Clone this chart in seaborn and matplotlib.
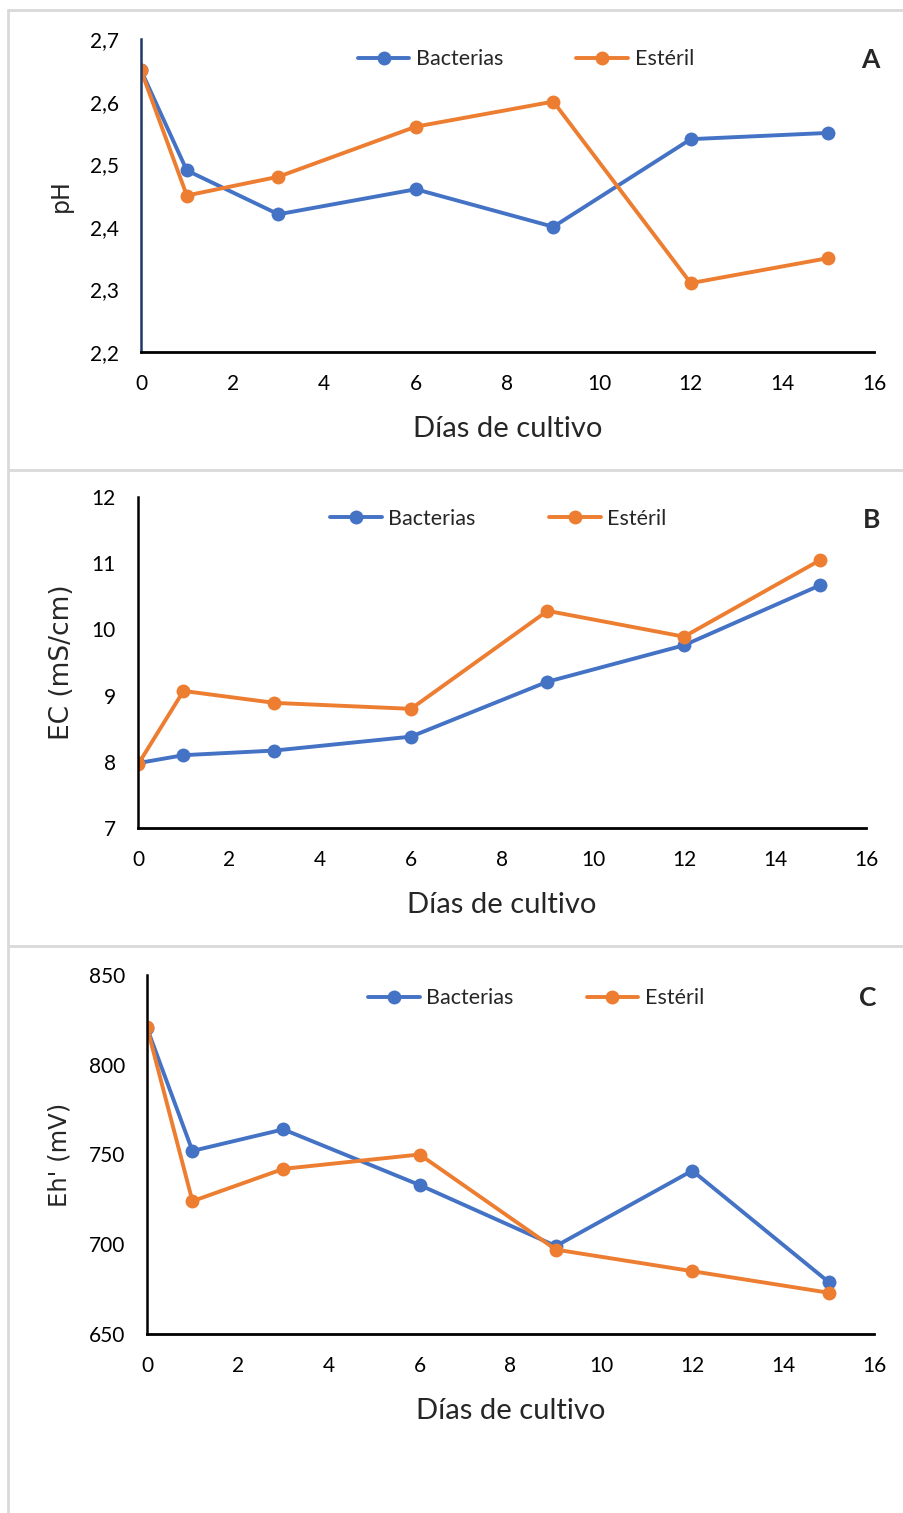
import numpy as np
import pandas as pd
import matplotlib
matplotlib.use("Agg")
import matplotlib.pyplot as plt
from matplotlib.lines import Line2D
import seaborn as sns

sns.set_style("white")
plt.rcParams['font.family'] = ['Lato', 'DejaVu Sans']

days = [0, 1, 3, 6, 9, 12, 15]
series_names = ["Bacterias", "Estéril"]

ph_bacterias = [2.65, 2.49, 2.42, 2.46, 2.40, 2.54, 2.55]
ph_esteril = [2.65, 2.45, 2.48, 2.56, 2.60, 2.31, 2.35]

ec_bacterias = [7.98, 8.10, 8.17, 8.38, 9.21, 9.76, 10.67]
ec_esteril = [7.96, 9.07, 8.89, 8.80, 10.28, 9.89, 11.05]

eh_bacterias = [820.5, 752, 764, 733, 699, 741, 679]
eh_esteril = [821, 724, 742, 750, 697, 685, 673]

panel_letters = ["A", "B", "C"]
ylabels = ["pH", "EC (mS/cm)", "Eh' (mV)"]
xlabel = "Días de cultivo"
yticks_A = [2.2, 2.3, 2.4, 2.5, 2.6, 2.7]
yticks_B = [7, 8, 9, 10, 11, 12]
yticks_C = [650, 700, 750, 800, 850]
xticks = [0, 2, 4, 6, 8, 10, 12, 14, 16]

colors = {"Bacterias": "#4472C4", "Estéril": "#ED7D31"}

W, H = 904, 1513
fig = plt.figure(figsize=(W / 100, H / 100), dpi=100)

def fx(px):
    return px / W

def fy(py):
    return 1 - py / H

# panel frames
for y in [10, 470, 946]:
    fig.add_artist(Line2D([fx(8), 1.0], [fy(y), fy(y)], transform=fig.transFigure,
                          color="#d9d9d9", lw=2))
fig.add_artist(Line2D([fx(8), fx(8)], [fy(10), 0.0], transform=fig.transFigure,
                      color="#d9d9d9", lw=2))

panels = [
    dict(rect=(141, 874, 39, 352), b=ph_bacterias, e=ph_esteril, yt=yticks_A,
         fmt=lambda v: f"{v:.1f}".replace(".", ","), leg=(0.525, 0.935), letter_y=60, letter_x=870,
         spine="#1f3864", ylsize=17),
    dict(rect=(138, 866, 497, 828), b=ec_bacterias, e=ec_esteril, yt=yticks_B,
         fmt=lambda v: f"{v:d}", leg=(0.495, 0.935), letter_y=520, letter_x=872, spine="black",
         ylsize=19),
    dict(rect=(147, 874, 975, 1334), b=eh_bacterias, e=eh_esteril, yt=yticks_C,
         fmt=lambda v: f"{v:d}", leg=(0.535, 0.935), letter_y=998, letter_x=868, spine="black",
         ylsize=17.5),
]

for i, p in enumerate(panels):
    l, r, t, bt = p["rect"]
    ax = fig.add_axes([fx(l), fy(bt), fx(r) - fx(l), fy(t) - fy(bt)])
    df = pd.DataFrame({
        "day": days * 2,
        "value": list(p["b"]) + list(p["e"]),
        "serie": [series_names[0]] * len(days) + [series_names[1]] * len(days),
    })
    sns.lineplot(data=df, x="day", y="value", hue="serie", palette=colors,
                 marker="o", markersize=10, markeredgewidth=0, linewidth=2.8,
                 ax=ax, legend=True)
    ax.set_xlim(0, 16)
    ax.set_ylim(p["yt"][0], p["yt"][-1])
    ax.set_xticks(xticks)
    ax.set_xticklabels([str(v) for v in xticks])
    ax.set_yticks(p["yt"])
    ax.set_yticklabels([p["fmt"](v) for v in p["yt"]])
    for s in ["top", "right"]:
        ax.spines[s].set_visible(False)
    ax.spines["bottom"].set_color("black")
    ax.spines["bottom"].set_linewidth(2)
    ax.spines["left"].set_color(p["spine"])
    ax.spines["left"].set_linewidth(1.8)
    ax.tick_params(axis="both", direction="in", length=6, width=1.5,
                   labelsize=15, colors="black")
    ax.tick_params(axis="x", pad=16)
    ax.tick_params(axis="y", pad=16)
    ax.set_xlabel(xlabel, fontsize=21, labelpad=16)
    ax.set_ylabel(ylabels[i], fontsize=p["ylsize"], family=["DejaVu Sans"], labelpad=12)
    ax.grid(False)
    ax.set_facecolor("none")
    handles, labels = ax.get_legend_handles_labels()
    ax.legend(handles, labels, loc="center", bbox_to_anchor=p["leg"], ncol=2,
              frameon=False, fontsize=15.5, handlelength=2.4, handletextpad=0.3,
              columnspacing=3.4)
    fig.text(fx(p["letter_x"]), fy(p["letter_y"]), panel_letters[i], fontsize=19,
             fontweight="bold", ha="center", va="center")

fig.savefig("out.png", dpi=100, facecolor="white")
